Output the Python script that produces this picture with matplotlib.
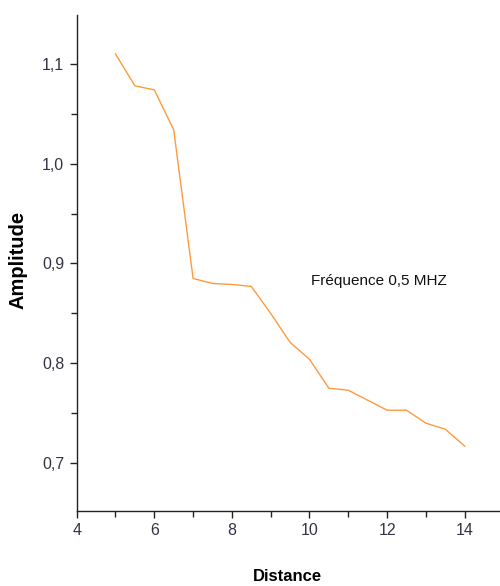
import matplotlib
matplotlib.use("Agg")
import matplotlib.pyplot as plt
from matplotlib.ticker import MultipleLocator, FuncFormatter

# Amplitude measured along the distance axis at 0.5 MHz
distance = [5, 5.5, 6, 6.5, 7, 7.5, 8, 8.5, 9, 9.5, 10, 10.5, 11, 11.5, 12, 12.5, 13, 13.5, 14]
amplitude = [1.110, 1.078, 1.074, 1.034, 0.885, 0.880, 0.879, 0.877, 0.850, 0.821, 0.804,
             0.775, 0.773, 0.763, 0.753, 0.753, 0.740, 0.734, 0.717]

x_ticks = [4, 6, 8, 10, 12, 14]
y_ticks = [0.7, 0.8, 0.9, 1.0, 1.1]

regular = ['Liberation Sans', 'DejaVu Sans']

fig = plt.figure(figsize=(5.0, 5.86), dpi=100)
ax = fig.add_axes([0.1534, 0.128, 0.8466, 0.8464])

ax.plot(distance, amplitude, color='#FF9A3C', linewidth=1.0)

ax.set_xlim(4, 14.91)
ax.set_ylim(0.652, 1.149)

ax.spines['top'].set_visible(False)
ax.spines['right'].set_visible(False)
for s in ('left', 'bottom'):
    ax.spines[s].set_linewidth(1.0)
    ax.spines[s].set_color('#222222')

ax.set_xticks(x_ticks)
ax.set_yticks(y_ticks)
ax.xaxis.set_minor_locator(MultipleLocator(1))
ax.yaxis.set_minor_locator(MultipleLocator(0.05))
ax.yaxis.set_major_formatter(FuncFormatter(lambda v, p: f"{v:.1f}".replace('.', ',')))
ax.xaxis.set_major_formatter(FuncFormatter(lambda v, p: f"{int(round(v))}"))

ax.tick_params(which='both', direction='out', color='#222222', width=1.0)
ax.tick_params(which='major', length=5, labelsize=11.5, labelcolor='#333344', pad=4)
ax.tick_params(which='minor', length=4)
for lab in ax.get_xticklabels() + ax.get_yticklabels():
    lab.set_family(regular)

ax.set_xlabel('Distance', fontsize=12, fontweight='bold', family=regular)
ax.set_ylabel('Amplitude', fontsize=14.5, fontweight='bold', family=regular)
ax.xaxis.set_label_coords(0.497, -0.117)
ax.yaxis.set_label_coords(-0.117, 0.506)

ax.text(11.8, 0.882, 'Fréquence 0,5 MHZ', fontsize=11, family=regular,
        ha='center', va='center', color='#111111')

fig.savefig('out.png', dpi=100)
